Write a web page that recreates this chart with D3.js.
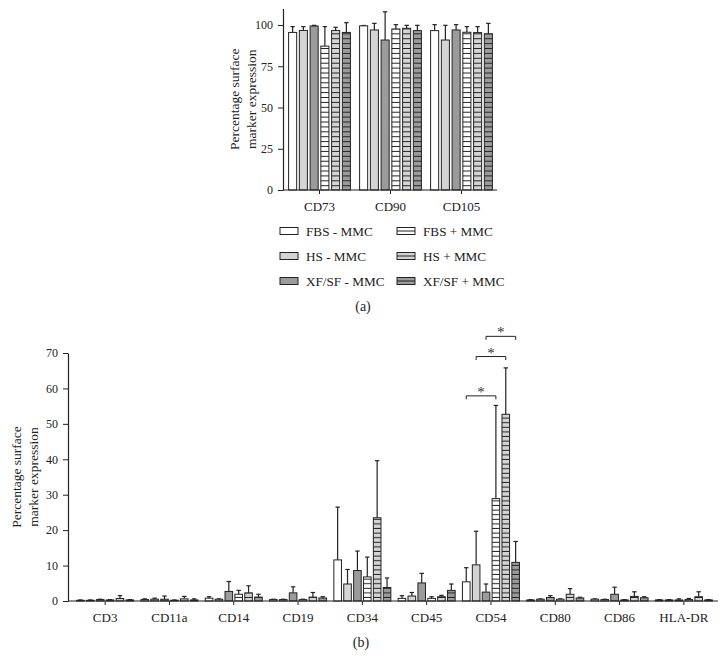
<!DOCTYPE html>
<html>
<head>
<meta charset="utf-8">
<script src="https://cdn.jsdelivr.net/npm/d3@7"></script>
<style>
  body { margin: 0; background: #fff; }
  svg { display: block; font-family: "Liberation Serif", "DejaVu Serif", serif; }
  .axis text { font-size: 12px; fill: #222; font-family: "Liberation Serif", serif; }
  .axis path, .axis line { stroke: #222; }
</style>
</head>
<body>
<div class="canvas"></div>
<script>
const seriesNames = ["FBS - MMC", "HS - MMC", "XF/SF - MMC", "FBS + MMC", "HS + MMC", "XF/SF + MMC"];
const seriesFill = ["#ffffff", "#d4d4d4", "#9b9b9b", "#ffffff", "#d4d4d4", "#9b9b9b"];
const seriesStriped = [false, false, false, true, true, true];

// panel (a)
const markersA = ["CD73", "CD90", "CD105"];
const meanA = [
  [95.5, 96.7, 99.4, 87.2, 96.7, 95.5],
  [99.5, 97.0, 90.9, 97.6, 98.0, 96.6],
  [96.6, 90.9, 97.0, 95.6, 95.4, 94.7],
];
const sdA = [
  [3.5, 2.3, 0.4, 11.8, 1.9, 5.9],
  [0.2, 4.0, 17.1, 2.6, 1.8, 3.2],
  [3.6, 8.9, 3.2, 3.4, 3.6, 6.3],
];
const ticksA = [0, 25, 50, 75, 100];

// panel (b)
const markersB = ["CD3", "CD11a", "CD14", "CD19", "CD34", "CD45", "CD54", "CD80", "CD86", "HLA-DR"];
const meanB = [
  [0.2, 0.2, 0.4, 0.3, 0.7, 0.3],
  [0.4, 0.5, 0.5, 0.2, 0.6, 0.3],
  [0.8, 0.5, 2.7, 1.9, 2.3, 1.1],
  [0.4, 0.4, 2.3, 0.4, 1.1, 0.85],
  [11.6, 4.8, 8.6, 6.8, 23.5, 3.8],
  [0.75, 1.4, 5.1, 0.75, 1.2, 3.0],
  [5.4, 10.2, 2.5, 28.9, 52.7, 10.9],
  [0.3, 0.5, 1.0, 0.5, 1.9, 0.85],
  [0.5, 0.4, 1.9, 0.3, 1.3, 0.9],
  [0.3, 0.3, 0.3, 0.4, 1.2, 0.3],
];
const sdB = [
  [0.1, 0.1, 0.1, 0.1, 0.8, 0.1],
  [0.2, 0.3, 0.9, 0.1, 0.7, 0.3],
  [0.4, 0.1, 2.8, 1.1, 2.0, 0.8],
  [0.1, 0.1, 1.7, 0.1, 1.3, 0.35],
  [14.9, 4.1, 5.5, 5.6, 16.1, 2.7],
  [0.75, 1.0, 2.7, 0.45, 0.4, 1.8],
  [4.0, 9.5, 2.3, 26.3, 13.1, 5.9],
  [0.1, 0.1, 0.5, 0.1, 1.6, 0.2],
  [0.1, 0.1, 2.0, 0.1, 1.3, 0.3],
  [0.1, 0.1, 0.3, 0.3, 1.4, 0.1],
];
const ticksB = [0, 10, 20, 30, 40, 50, 60, 70];

// significance brackets on CD54: [from series, to series, level]
const sigMarker = "CD54";
const sigFrom = [0, 1, 2];
const sigTo = [3, 4, 5];
const sigLevel = [57.9, 69.0, 74.7];

const svg = d3
  .select(".canvas")
  .append("svg")
  .attr("width", 726)
  .attr("height", 670);

const defs = svg.append("defs");

const stripe = (id, fill, h) => {
  const p = defs
    .append("pattern")
    .attr("id", id)
    .attr("patternUnits", "userSpaceOnUse")
    .attr("width", 10)
    .attr("height", h);
  p.append("rect").attr("width", 10).attr("height", h).attr("fill", fill);
  p.append("line")
    .attr("x1", 0)
    .attr("x2", 10)
    .attr("y1", h - 0.5)
    .attr("y2", h - 0.5)
    .attr("stroke", "#222")
    .attr("stroke-width", 1);
};

const fillFor = (i, panel) =>
  seriesStriped[i] ? `url(#st-${panel}-${i})` : seriesFill[i];

seriesNames.forEach((s, i) => {
  if (seriesStriped[i]) {
    stripe(`st-a-${i}`, seriesFill[i], 4.9);
    stripe(`st-b-${i}`, seriesFill[i], 4.6);
  }
});

const drawPanel = (cfg) => {
  const g = svg.append("g");

  const x = d3.scaleBand().domain(cfg.markers).range(cfg.xRange);
  const y = d3.scaleLinear().domain(cfg.yDomain).range(cfg.yRange);
  const inner = d3
    .scaleBand()
    .domain(d3.range(seriesNames.length))
    .range([-3 * cfg.pitch, 3 * cfg.pitch])
    .paddingInner(cfg.gap);

  const rows = [];
  cfg.markers.forEach((m, gi) => {
    cfg.mean[gi].forEach((v, si) => {
      rows.push({ m, si, v, sd: cfg.sd[gi][si] });
    });
  });

  const cx = (d) => x(d.m) + x.bandwidth() / 2 + inner(d.si);

  // error bars first, so the bar covers the bottom end
  const err = g.selectAll(".err").data(rows).enter().append("g");
  err
    .append("line")
    .attr("x1", (d) => cx(d) + inner.bandwidth() / 2)
    .attr("x2", (d) => cx(d) + inner.bandwidth() / 2)
    .attr("y1", (d) => y(d.v))
    .attr("y2", (d) => y(d.v + d.sd))
    .attr("stroke", "#222")
    .attr("stroke-width", 1.2);
  err
    .append("line")
    .attr("x1", (d) => cx(d) + inner.bandwidth() / 2 - 2.2)
    .attr("x2", (d) => cx(d) + inner.bandwidth() / 2 + 2.2)
    .attr("y1", (d) => y(d.v + d.sd))
    .attr("y2", (d) => y(d.v + d.sd))
    .attr("stroke", "#222")
    .attr("stroke-width", 1.2);

  g.selectAll(".bar")
    .data(rows)
    .enter()
    .append("rect")
    .attr("x", cx)
    .attr("width", inner.bandwidth())
    .attr("y", (d) => y(d.v))
    .attr("height", (d) => y(0) - y(d.v))
    .attr("fill", (d) => fillFor(d.si, cfg.id))
    .attr("stroke", "#222")
    .attr("stroke-width", 1);

  const yAxis = g
    .append("g")
    .attr("class", "axis")
    .attr("transform", `translate(${cfg.axisStart},0)`)
    .call(d3.axisLeft(y).tickValues(cfg.ticks).tickSize(5).tickSizeOuter(0).tickPadding(5));
  yAxis.select(".domain").attr("stroke-width", 1.2);

  const xAxis = g
    .append("g")
    .attr("class", "axis")
    .attr("transform", `translate(0,${y(0)})`)
    .call(d3.axisBottom(x).tickSize(4).tickSizeOuter(0).tickPadding(8));
  xAxis.select(".domain").remove();
  xAxis.selectAll("text").style("font-size", "13px");
  g.append("line")
    .attr("x1", cfg.axisStart)
    .attr("x2", cfg.axisEnd)
    .attr("y1", y(0))
    .attr("y2", y(0))
    .attr("stroke", "#222")
    .attr("stroke-width", 1.2);

  const label = g
    .append("text")
    .attr("transform", `translate(${cfg.labelX},${(cfg.yRange[0] + cfg.yRange[1]) / 2}) rotate(-90)`)
    .attr("text-anchor", "middle")
    .style("font-size", "13.5px")
    .attr("fill", "#222");
  label.append("tspan").attr("x", 0).attr("dy", 0).text("Percentage surface");
  label.append("tspan").attr("x", 0).attr("dy", 17).text("marker expression");

  return { x, y, inner, g };
};

const a = drawPanel({
  id: "a",
  markers: markersA,
  mean: meanA,
  sd: sdA,
  ticks: ticksA,
  xRange: [284, 497],
  axisStart: 283,
  axisEnd: 497,
  yDomain: [0, 110],
  yRange: [190, 8.5],
  pitch: 10.3,
  gap: 0.25,
  labelX: 238.5,
});

const b = drawPanel({
  id: "b",
  markers: markersB,
  mean: meanB,
  sd: sdB,
  ticks: ticksB,
  xRange: [73, 716],
  axisStart: 68,
  axisEnd: 718,
  yDomain: [0, 70],
  yRange: [601, 353],
  pitch: 9.5,
  gap: 0.23,
  labelX: 20.5,
});

// significance brackets
const sx = (si) =>
  b.x(sigMarker) + b.x.bandwidth() / 2 + b.inner(si) + b.inner.bandwidth() / 2;
sigFrom.forEach((f, k) => {
  const x1 = sx(f);
  const x2 = sx(sigTo[k]);
  const yy = b.y(sigLevel[k]);
  svg
    .append("path")
    .attr("d", `M${x1},${yy + 3.5}V${yy}H${x2}V${yy + 3.5}`)
    .attr("fill", "none")
    .attr("stroke", "#222")
    .attr("stroke-width", 1);
  svg
    .append("text")
    .attr("x", (x1 + x2) / 2)
    .attr("y", yy + 1)
    .attr("text-anchor", "middle")
    .style("font-size", "15px")
    .attr("fill", "#333")
    .text("*");
});

// legend for panel (a)
const legend = svg.append("g");
const legX = [280, 397];
const legY = [231, 256, 281];
seriesNames.forEach((s, i) => {
  const col = Math.floor(i / 3);
  const row = i % 3;
  const item = legend
    .append("g")
    .attr("transform", `translate(${legX[col]},${legY[row]})`);
  item
    .append("rect")
    .attr("x", 0)
    .attr("y", -3.5)
    .attr("width", 18)
    .attr("height", 7)
    .attr("fill", seriesFill[i])
    .attr("stroke", "#222")
    .attr("stroke-width", 1);
  if (seriesStriped[i]) {
    item
      .append("line")
      .attr("x1", 0)
      .attr("x2", 18)
      .attr("y1", 0)
      .attr("y2", 0)
      .attr("stroke", "#222")
      .attr("stroke-width", 1);
  }
  item
    .append("text")
    .attr("x", 26)
    .attr("y", 4.5)
    .style("font-size", "13.2px")
    .attr("fill", "#222")
    .text(s);
});

svg
  .append("text")
  .attr("x", 363)
  .attr("y", 311)
  .attr("text-anchor", "middle")
  .style("font-size", "14px")
  .attr("fill", "#222")
  .text("(a)");

svg
  .append("text")
  .attr("x", 361)
  .attr("y", 647)
  .attr("text-anchor", "middle")
  .style("font-size", "14px")
  .attr("fill", "#222")
  .text("(b)");
</script>
</body>
</html>
